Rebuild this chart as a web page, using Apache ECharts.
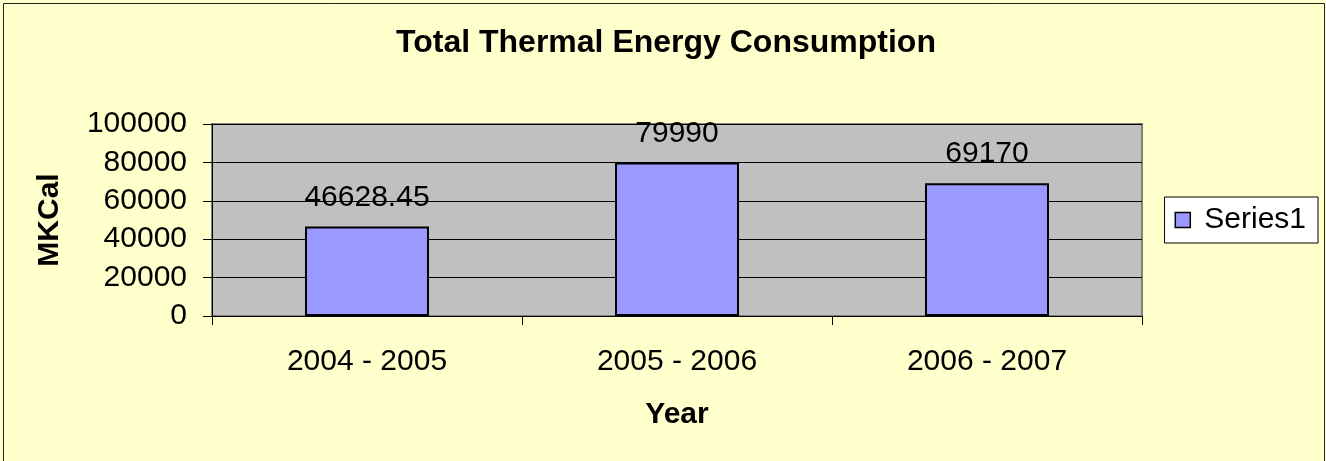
<!DOCTYPE html>
<html><head><meta charset="utf-8">
<script src="https://cdn.jsdelivr.net/npm/echarts@6/dist/echarts.min.js"></script>
<style>html,body{margin:0;padding:0;background:#FFFFCC;}#c{width:1326px;height:461px;}</style>
</head><body><div id="c"></div>
<script>
const categories = ['2004 - 2005', '2005 - 2006', '2006 - 2007'];
const values = [46628.45, 79990, 69170];
const seriesName = 'Series1';
const font = '"Liberation Sans", Arial, sans-serif';
const chart = echarts.init(document.getElementById('c'), null, {renderer: 'canvas'});
chart.setOption({
  backgroundColor: '#FFFFCC',
  animation: false,
  title: {text: 'Total Thermal Energy Consumption', left: 666, top: 27, textAlign: 'center', padding: 0,
    textStyle: {fontFamily: font, fontSize: 32, fontWeight: 'bold', color: '#000'}},
  graphic: [{type: 'rect', shape: {x: 3.5, y: 3.5, width: 1321, height: 470}, style: {fill: 'none', stroke: '#222', lineWidth: 1}, silent: true}],
  legend: {show: true, right: 8, top: 197, padding: [8, 12, 8, 10],
    backgroundColor: '#FFFFFF', borderColor: '#000', borderWidth: 1, itemWidth: 15, itemHeight: 15, itemGap: 4,
    icon: 'rect', itemStyle: {borderColor: '#000', borderWidth: 1.5},
    textStyle: {fontFamily: font, fontSize: 30, color: '#000', padding: [0, 0, 0, 9]}, data: [seriesName]},
  grid: {left: 212, top: 124, right: 184, bottom: 145, show: true, backgroundColor: '#C0C0C0', borderColor: '#808080', borderWidth: 2},
  xAxis: {type: 'category', data: categories, name: 'Year', nameLocation: 'middle', nameGap: 84,
    nameTextStyle: {fontFamily: font, fontSize: 30, fontWeight: 'bold', color: '#000'},
    axisLine: {lineStyle: {color: '#000', width: 1}}, axisTick: {show: true, length: 9, lineStyle: {color: '#000'}},
    axisLabel: {fontFamily: font, fontSize: 30, color: '#000', margin: 31}},
  yAxis: {type: 'value', min: 0, max: 100000, interval: 20000, name: 'MKCal', nameLocation: 'middle', nameGap: 147, nameRotate: 90,
    nameTextStyle: {fontFamily: font, fontSize: 30, fontWeight: 'bold', color: '#000'},
    axisLine: {show: true, lineStyle: {color: '#000', width: 1}}, axisTick: {show: true, length: 9, lineStyle: {color: '#000'}},
    axisLabel: {fontFamily: font, fontSize: 30, color: '#000', margin: 25, formatter: v => String(v)},
    splitLine: {show: true, lineStyle: {color: '#000', width: 1}}},
  series: [{name: seriesName, type: 'bar', data: values, barWidth: '40%',
    itemStyle: {color: '#9999FF', borderColor: '#000', borderWidth: 2},
    label: {show: true, position: 'top', distance: 14, fontFamily: font, fontSize: 30, color: '#000'}}]
});
</script></body></html>
